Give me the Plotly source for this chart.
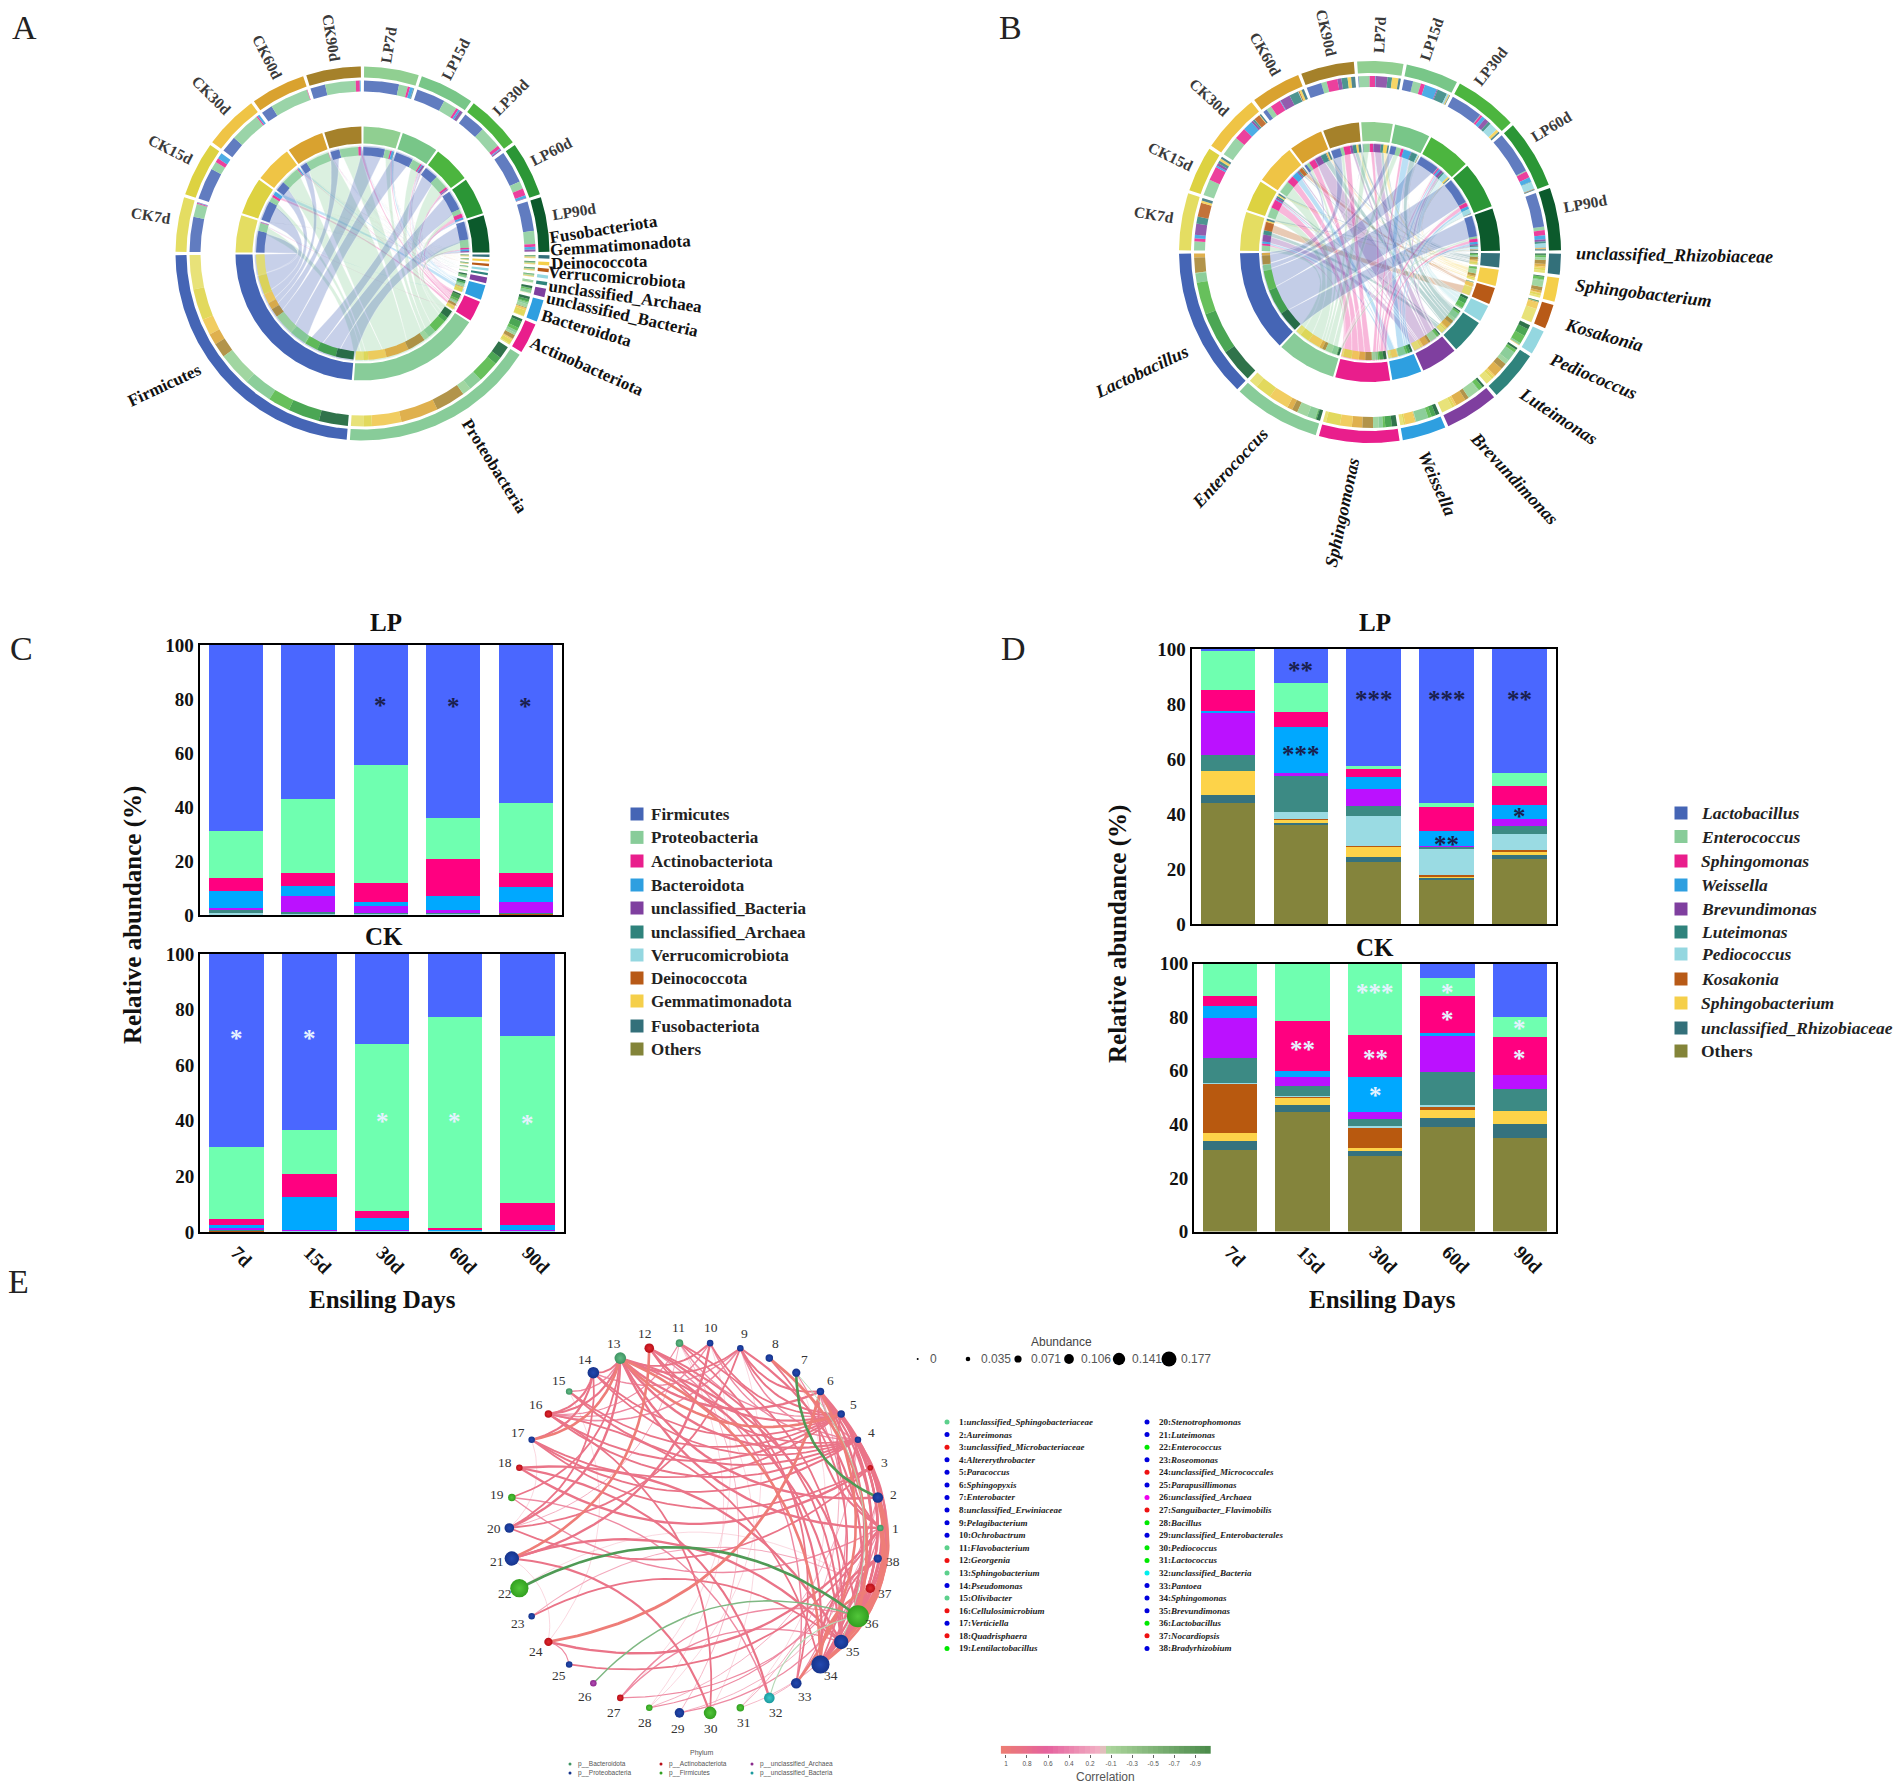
import numpy as np
import plotly.graph_objects as go

W, H = 1902, 1790
SERIF = "Liberation Serif"
SANS = "Liberation Sans"

# ---------- data ----------
samples = ["CK7d", "CK15d", "CK30d", "CK60d", "CK90d", "LP7d", "LP15d", "LP30d", "LP60d", "LP90d"]
sample_colors = ["#e4dd62", "#ddd241", "#efc445", "#d9a22f", "#a5812a",
                 "#90cf91", "#78c688", "#4cb53f", "#2b9636", "#0c5a2c"]
days = ["7d", "15d", "30d", "60d", "90d"]

phyla = ["Firmicutes", "Proteobacteria", "Actinobacteriota", "Bacteroidota", "unclassified_Bacteria",
         "unclassified_Archaea", "Verrucomicrobiota", "Deinococcota", "Gemmatimonadota", "Fusobacteriota"]
phylum_legend_colors = ["#4565b5", "#88cc99", "#e91e8c", "#2e9fe0", "#7f3f9f", "#2f837c",
                        "#94d7e0", "#b85a17", "#f5cf4a", "#33707a", "#838439"]
phylum_bar_colors = ["#4a67ff", "#6fffb0", "#ff0080", "#00a8ff", "#bb11ff", "#3c8a84",
                     "#9adbe3", "#b8590f", "#fdd349", "#35727e", "#84843c"]
# columns: CK7,15,30,60,90, LP7,15,30,60,90
firmicutes = [69.3, 63.3, 32.5, 22.5, 29.4, 69.0, 57.0, 44.3, 64.0, 58.7]
proteobacteria = [26.2, 16.0, 59.8, 75.9, 60.3, 17.5, 27.3, 43.9, 15.2, 25.7]
actinobacteriota = [2.0, 8.2, 2.7, 0.9, 7.9, 4.7, 4.9, 6.8, 13.8, 5.3]
bacteroidota = [1.0, 11.8, 4.3, 0.1, 1.7, 6.3, 3.8, 1.7, 5.2, 5.3]
unclassified_bacteria = [0.6, 0.2, 0.2, 0.1, 0.2, 0.5, 6.0, 2.6, 1.2, 4.2]
unclassified_archaea = [0.2, 0.1, 0.1, 0.1, 0.1, 1.4, 0.5, 0.2, 0.1, 0.1]
verrucomicrobiota = [0.3, 0.1, 0.1, 0.1, 0.1, 0.4, 0.2, 0.2, 0.2, 0.2]
deinococcota = [0.1, 0.1, 0.1, 0.1, 0.1, 0.1, 0.1, 0.1, 0.1, 0.2]
gemmatimonadota = [0.2, 0.1, 0.1, 0.1, 0.1, 0.1, 0.1, 0.2, 0.1, 0.2]
fusobacteriota = [0.1, 0.1, 0.1, 0.1, 0.1, 0.1, 0.1, 0.0, 0.1, 0.1]
phylum_matrix = np.array([firmicutes, proteobacteria, actinobacteriota, bacteroidota, unclassified_bacteria,
                          unclassified_archaea, verrucomicrobiota, deinococcota, gemmatimonadota, fusobacteriota])

genera = ["Lactobacillus", "Enterococcus", "Sphingomonas", "Weissella", "Brevundimonas", "Luteimonas",
          "Pediococcus", "Kosakonia", "Sphingobacterium", "unclassified_Rhizobiaceae"]
genus_legend_colors = ["#4565b5", "#88cc99", "#e91e8c", "#2e9fe0", "#7f3f9f", "#2f837c",
                       "#94d7e0", "#b85a17", "#f5cf4a", "#33707a", "#838439"]
genus_bar_colors = phylum_bar_colors
lactobacillus = [0, 0, 0, 5.3, 20, 0.8, 12.3, 42.7, 56, 45]
enterococcus = [12, 21.5, 26.7, 7, 7.3, 14.2, 10.7, 0.8, 1.3, 4.8]
sphingomonas = [4, 18.5, 15.8, 13.7, 14.2, 7.5, 5.5, 3, 8.7, 6.9]
weissella = [4.5, 2.3, 12.9, 1, 0, 0.8, 16.5, 4.5, 5.8, 5]
brevundimonas = [14.7, 3.5, 2.8, 13.5, 5.3, 15.2, 1.3, 6, 0.2, 2.8]
luteimonas = [9.4, 3.5, 2.5, 12.2, 8.2, 6, 13, 3.7, 0.5, 2.7]
pediococcus = [0.1, 0.2, 0.3, 0.6, 0, 0, 2.4, 10.9, 9.8, 5.8]
kosakonia = [18.5, 0.3, 8, 1.4, 0, 0, 0.3, 0.1, 0.5, 0.8]
sphingobacterium = [3, 2.9, 0.8, 3, 4.7, 8.5, 1.2, 3.8, 0.2, 1]
rhizobiaceae = [3.5, 2.8, 2, 3.3, 5.3, 3, 0.8, 2, 1, 1.7]
genus_others = [30.3, 44.5, 28.2, 39, 35, 44, 36, 22.5, 16, 23.5]
genus_matrix = np.array([lactobacillus, enterococcus, sphingomonas, weissella, brevundimonas, luteimonas,
                         pediococcus, kosakonia, sphingobacterium, rhizobiaceae])

stars_c_lp = [("30d", 79.6, "*"), ("60d", 79, "*"), ("90d", 79, "*")]
stars_c_ck = [("7d", 71.5, "*"), ("15d", 71.5, "*"), ("30d", 41.5, "*"), ("60d", 41.5, "*"), ("90d", 41, "*")]
stars_d_lp = [("15d", 94, "**"), ("15d", 63.4, "***"), ("30d", 83.4, "***"), ("60d", 83.4, "***"),
              ("90d", 83.4, "**"), ("90d", 41, "*"), ("60d", 30.7, "**")]
stars_d_ck = [("15d", 69.6, "**"), ("30d", 91, "***"), ("30d", 66.5, "**"), ("30d", 52.5, "*"),
              ("60d", 91, "*"), ("60d", 81, "*"), ("90d", 77.5, "*"), ("90d", 66.5, "*")]

taxa = ["unclassified_Sphingobacteriaceae", "Aureimonas", "unclassified_Microbacteriaceae", "Altererythrobacter",
        "Paracoccus", "Sphingopyxis", "Enterobacter", "unclassified_Erwiniaceae", "Pelagibacterium", "Ochrobactrum",
        "Flavobacterium", "Georgenia", "Sphingobacterium", "Pseudomonas", "Olivibacter", "Cellulosimicrobium",
        "Verticiella", "Quadrisphaera", "Lentilactobacillus", "Stenotrophomonas", "Luteimonas", "Enterococcus",
        "Roseomonas", "unclassified_Micrococcales", "Parapusillimonas", "unclassified_Archaea",
        "Sanguibacter_Flavimobilis", "Bacillus", "unclassified_Enterobacterales", "Pediococcus", "Lactococcus",
        "unclassified_Bacteria", "Pantoea", "Sphingomonas", "Brevundimonas", "Lactobacillus", "Nocardiopsis",
        "Bradyrhizobium"]
taxa_phylum = ["Bd", "Pr", "Ac", "Pr", "Pr", "Pr", "Pr", "Pr", "Pr", "Pr", "Bd", "Ac", "Bd", "Pr", "Bd", "Ac", "Pr", "Ac",
               "Fi", "Pr", "Pr", "Fi", "Pr", "Ac", "Pr", "Ar", "Ac", "Fi", "Pr", "Fi", "Fi", "Ub", "Pr", "Pr", "Pr", "Fi",
               "Ac", "Pr"]
taxa_abundance = [0.025, 0.065, 0.016, 0.025, 0.035, 0.035, 0.042, 0.035, 0.025, 0.025,
                  0.035, 0.055, 0.075, 0.075, 0.025, 0.035, 0.025, 0.025, 0.035, 0.055,
                  0.102, 0.140, 0.025, 0.042, 0.025, 0.025, 0.025, 0.025, 0.055, 0.085,
                  0.035, 0.065, 0.065, 0.140, 0.102, 0.177, 0.055, 0.042]
node_colors = {"Bd": "#3f9463", "Pr": "#16348c", "Ac": "#b80f18", "Fi": "#32a020", "Ar": "#8a2a8c", "Ub": "#1b9a9e"}
node_centers = {"Bd": "#62bb85", "Pr": "#2349b0", "Ac": "#e02a30", "Fi": "#52c63a", "Ar": "#b44ab4", "Ub": "#3cc6c8"}
key_colors = {"Bd": "#5cd08c", "Pr": "#0000dd", "Ac": "#ee1111", "Fi": "#00e800", "Ar": "#ee00ee", "Ub": "#00eeee"}
phylum_key = [("p__Bacteroidota", "Bd"), ("p__Proteobacteria", "Pr"), ("p__Actinobacteriota", "Ac"),
              ("p__Firmicutes", "Fi"), ("p__unclassified_Archaea", "Ar"), ("p__unclassified_Bacteria", "Ub")]
abundance_key = [0, 0.035, 0.071, 0.106, 0.141, 0.177]
abundance_labels = ["0", "0.035", "0.071", "0.106", "0.141", "0.177"]
corr_ticks = ["1", "0.8", "0.6", "0.4", "0.2", "-0.1", "-0.3", "-0.5", "-0.7", "-0.9"]

edges = [
    (1,36,.95),(2,36,.95),(1,35,.9),(1,34,.9),(2,34,.95),(2,35,.85),(36,38,.8),(36,37,.9),(34,37,.9),(34,38,.85),
    (35,38,.7),(35,37,.6),(4,36,.85),(5,36,.85),(6,36,.85),(5,34,.85),(6,34,.85),(4,35,.8),(6,35,.8),(3,35,.7),
    (5,35,.8),(4,34,.8),(6,33,.9),(3,36,.6),(1,4,.75),(1,5,.8),(1,6,.75),(4,6,.6),(5,6,.6),
    (8,36,.95),(8,34,.7),(9,36,.8),(9,6,.75),(9,5,.75),(9,4,.6),(10,5,.7),(10,4,.6),
    (13,1,.85),(13,2,.85),
    (13,14,.75),(13,16,.8),(13,17,.9),(13,15,.6),(13,20,.85),(13,19,.7),(14,16,.8),(14,17,.8),(14,20,.7),(9,16,.65),
    (10,16,.6),(9,13,.7),(10,13,.75),(11,16,.5),(9,14,.6),(12,5,.8),(12,4,.7),(13,4,.85),(13,5,.9),
    (13,6,.85),(14,4,.7),(14,5,.7),(15,4,.75),(15,5,.7),(16,4,.75),(16,5,.75),(17,4,.75),
    (17,5,.7),(17,3,.7),(11,5,.6),
    (12,21,.9),(10,21,.85),(9,20,.7),(11,20,.4),(12,34,.8),(13,34,.9),(13,35,.8),(13,36,.8),(11,33,.7),(11,35,.7),
    (12,33,.6),(12,35,.75),(11,30,.3),(9,28,.3),(16,34,.7),(17,20,.3),
    (15,24,.3),(10,27,.3),(3,18,.85),(18,32,.8),(18,35,.85),(1,19,.6),(19,32,.6),(3,20,.7),
    (21,35,.85),(21,30,.8),(21,24,.3),(22,37,.3),(23,35,.7),(23,37,.45),
    (6,24,.95),(1,24,.85),(24,25,.5),(1,25,.7),
    (27,36,.6),(27,35,.6),(1,27,.5),(2,28,.5),(4,28,.4),(11,28,.3),(1,29,.6),(2,29,.4),(11,29,.35),(16,30,.7),(1,31,.35),
    (6,31,.4),(7,31,.3),(2,32,.4),(7,33,.5),
    (2,7,-.9),(22,36,-.9),(26,36,-.6),(32,36,-.5),(7,35,-.4),
]

# ---------- helpers ----------
fig = go.Figure()
annos = []


def rgba(hex_color, a):
    h = hex_color.lstrip("#")
    return f"rgba({int(h[0:2],16)},{int(h[2:4],16)},{int(h[4:6],16)},{a})"


def text(x, y, s, size, color="#000", angle=0, anchor="center", family=SERIF, bold=False, italic=False,
         xref="x", yref="y", yshift=0):
    if italic:
        s = f"<i>{s}</i>"
    if bold:
        s = f"<b>{s}</b>"
    annos.append(dict(x=x, y=y, xref=xref, yref=yref, text=s, showarrow=False, xanchor=anchor, yanchor="middle",
                      textangle=angle, yshift=yshift, font=dict(family=family, size=size, color=color)))


def pt(cx, cy, r, t):
    a = np.radians(t)
    return cx - r * np.cos(a), cy - r * np.sin(a)


def ring(cx, cy, r0, r1, t0, t1):
    ts = np.linspace(t0, t1, max(3, int(abs(t1 - t0) * 2) + 2))
    xo, yo = pt(cx, cy, r1, ts)
    xi, yi = pt(cx, cy, r0, ts[::-1])
    return list(xo) + list(xi) + [xo[0], None], list(yo) + list(yi) + [yo[0], None]


def fill_trace(xs, ys, color, line=None):
    fig.add_trace(go.Scatter(x=xs, y=ys, mode="lines", fill="toself", fillcolor=color,
                             line=line or dict(width=0), hoverinfo="skip", showlegend=False,
                             xaxis="x", yaxis="y"))


def draw_rings(bucket):
    for col, (xs, ys) in bucket.items():
        fill_trace(xs, ys, col)


def add(bucket, color, poly):
    b = bucket.setdefault(color, ([], []))
    b[0].extend(poly[0])
    b[1].extend(poly[1])


def ctrl_point(cx, cy, rc, t0, t1, pull):
    mid = (t0 + t1) / 2
    if abs(t1 - t0) > 180:
        mid += 180
    return pt(cx, cy, rc * pull, mid)


def chord_panel(cx, cy, o, label_pos, cols, M, gap, min_w, ribbon_alpha, pull):
    ns, ng = M.shape[1], M.shape[0]
    s_tot, g_tot = M.sum(axis=0), M.sum(axis=1)
    s_w = s_tot / s_tot.sum() * (180 - ns * gap)
    g_w = np.maximum(g_tot / g_tot.sum() * (180 - ng * gap), min_w)
    g_w = g_w / g_w.sum() * (180 - ng * gap)
    s_arc, g_arc = {}, {}
    sub_s, sub_g = {}, {}
    t = gap / 2
    for s in range(ns):
        s_arc[s] = (t, t + s_w[s])
        c = t
        for p in range(ng):
            w = M[p, s] / s_tot[s] * s_w[s]
            sub_s[p, s] = (c, c + w)
            c += w
        t += s_w[s] + gap
    t = 180 + gap / 2
    for p in range(ng - 1, -1, -1):
        g_arc[p] = (t, t + g_w[p])
        c = t
        for s in range(ns - 1, -1, -1):
            w = M[p, s] / g_tot[p] * g_w[p]
            sub_g[p, s] = (c, c + w)
            c += w
        t += g_w[p] + gap
    rc = o["c"]
    for p in range(ng - 1, -1, -1):
        xs, ys = [], []
        for s in range(ns):
            if M[p, s] <= 0:
                continue
            a0, a1 = sub_s[p, s]
            b0, b1 = sub_g[p, s]
            ta = np.linspace(a0, a1, 8)
            tb = np.linspace(b0, b1, 8)
            xa, ya = pt(cx, cy, rc, ta)
            xb, yb = pt(cx, cy, rc, tb)
            u = np.linspace(0, 1, 24)
            c1x, c1y = ctrl_point(cx, cy, rc, a1, b0, pull)
            c2x, c2y = ctrl_point(cx, cy, rc, a0, b1, pull)
            q1x = (1 - u) ** 2 * xa[-1] + 2 * u * (1 - u) * c1x + u ** 2 * xb[0]
            q1y = (1 - u) ** 2 * ya[-1] + 2 * u * (1 - u) * c1y + u ** 2 * yb[0]
            q2x = (1 - u) ** 2 * xb[-1] + 2 * u * (1 - u) * c2x + u ** 2 * xa[0]
            q2y = (1 - u) ** 2 * yb[-1] + 2 * u * (1 - u) * c2y + u ** 2 * ya[0]
            xs += list(xa) + list(q1x) + list(xb) + list(q2x) + [None]
            ys += list(ya) + list(q1y) + list(yb) + list(q2y) + [None]
        fill_trace(xs, ys, rgba(cols[p], ribbon_alpha), dict(width=0.5, color="rgba(255,255,255,0.55)"))
    for r0, r1, r2, r3, alpha in [(o["o2"], o["o1"], o["o4"], o["o3"], 0.85), (o["i2"], o["i1"], o["i4"], o["i3"], 0.85)]:
        bucket = {}
        for s in range(ns):
            add(bucket, sample_colors[s], ring(cx, cy, r0, r1, *s_arc[s]))
        for p in range(ng):
            add(bucket, cols[p], ring(cx, cy, r0, r1, *g_arc[p]))
        draw_rings(bucket)
        bucket = {}
        for s in range(ns):
            for p in range(ng):
                if M[p, s] > 0:
                    add(bucket, rgba(cols[p], alpha), ring(cx, cy, r2, r3, *sub_s[p, s]))
        for p in range(ng):
            for s in range(ns):
                if M[p, s] > 0:
                    add(bucket, rgba(sample_colors[s], alpha), ring(cx, cy, r2, r3, *sub_g[p, s]))
        draw_rings(bucket)
    for s in range(ns):
        m = sum(s_arc[s]) / 2
        ang = m if m < 90 else m - 180
        text(label_pos[s][0], label_pos[s][1], samples[s], 15.5, "#3a3a3a", ang, bold=True)


def pad(l, r, t, b):
    return [l / W, r / W], [1 - b / H, 1 - t / H]


# ---------- panels A and B ----------
sample_label_a = [(151, 215), (171, 149), (212, 95), (268, 57), (332, 38),
                  (388, 45), (455, 59), (510, 97), (551, 151), (574, 211)]
sample_label_b = [(1154, 214), (1171, 156), (1210, 97), (1266, 54), (1327, 33),
                  (1379, 35), (1431, 39), (1490, 66), (1551, 126), (1585, 203)]
chord_panel(362.5, 253.5, dict(o1=187, o2=176, o3=173, o4=162, i1=127, i2=110, i3=106.5, i4=98, c=108),
            sample_label_a, phylum_legend_colors, phylum_matrix, 1.0, 1.1, 0.30, 0.22)
chord_panel(1370, 252, dict(o1=191, o2=179, o3=176, o4=165, i1=130, i2=111, i3=108, i4=100, c=109),
            sample_label_b, genus_legend_colors, genus_matrix, 1.0, 0.5, 0.32, 0.12)

label_a = [("Fusobacteriota", 603, 229, -9), ("Gemmatimonadota", 620, 245, -4), ("Deinococcota", 599, 262, -1.5),
           ("Verrucomicrobiota", 617, 277, 4.5), ("unclassified_Archaea", 625, 296, 8),
           ("unclassified_Bacteria", 622, 314, 12.7), ("Bacteroidota", 587, 328, 16.7),
           ("Actinobacteriota", 587, 366, 24), ("Proteobacteria", 495, 466, 58), ("Firmicutes", 164, 385, -25)]
for n, x, y, a in label_a:
    text(x, y, n, 17, "#111", a, bold=True)
label_b = [("unclassified_Rhizobiaceae", 1674, 255, 1), ("Sphingobacterium", 1643, 293, 6.7),
           ("Kosakonia", 1604, 335, 16), ("Pediococcus", 1593, 375.5, 23), ("Luteimonas", 1558, 416, 33),
           ("Brevundimonas", 1514, 478, 47), ("Weissella", 1437, 483, 66), ("Sphingomonas", 1342, 513, -78),
           ("Enterococcus", 1230, 468, -47), ("Lactobacillus", 1141, 372, -25)]
for n, x, y, a in label_b:
    text(x, y, n, 18, "#111", a, bold=True, italic=True)

for s, x, y in [("A", 24, 27), ("B", 1010, 27), ("C", 21, 648), ("D", 1013, 648), ("E", 18, 1281)]:
    text(x, y, s, 34, "#222")

# ---------- legends C, D ----------
leg_c_y = [814, 837.4, 861, 885, 908, 932, 955, 978, 1001, 1026, 1049]
leg_d_y = [813, 836.5, 861, 885, 909, 932, 954, 979, 1003, 1028, 1051]
for i, n in enumerate(phyla + ["Others"]):
    text(649, leg_c_y[i], n, 17, "#222", anchor="left", bold=True)
fig.add_trace(go.Scatter(x=[637] * 11, y=leg_c_y, mode="markers",
                         marker=dict(symbol="square", size=13, color=phylum_legend_colors, opacity=1),
                         hoverinfo="skip", showlegend=False))
for i, n in enumerate(genera + ["Others"]):
    text(1699, leg_d_y[i], n, 17.5, "#222", anchor="left", bold=True, italic=(n != "Others"))
fig.add_trace(go.Scatter(x=[1681] * 11, y=leg_d_y, mode="markers",
                         marker=dict(symbol="square", size=13, color=genus_legend_colors, opacity=1),
                         hoverinfo="skip", showlegend=False))

# ---------- stacked bars C, D ----------
phylum_stack = [(phyla[i], list(phylum_matrix[i]), i) for i in range(9, -1, -1)]
genus_stack = [("Others", genus_others, 10)] + [(genera[i], list(genus_matrix[i]), i) for i in range(9, -1, -1)]


def bars(stack, palette, idx, ax):
    for name, vals, ci in stack:
        fig.add_trace(go.Bar(x=days, y=[vals[j] for j in idx], marker=dict(color=palette[ci], line=dict(width=0)),
                             name=name, xaxis="x" + ax, yaxis="y" + ax, hoverinfo="skip", showlegend=False))


LP = [5, 6, 7, 8, 9]
CK = [0, 1, 2, 3, 4]
bars(phylum_stack, phylum_bar_colors, LP, "2")
bars(phylum_stack, phylum_bar_colors, CK, "3")
bars(genus_stack, genus_bar_colors, LP, "4")
bars(genus_stack, genus_bar_colors, CK, "5")

rects = {"2": (199.5, 562, 645, 915), "3": (200, 564, 954, 1232),
         "4": (1191.5, 1556, 649, 924), "5": (1194, 1556, 963.5, 1231.5)}
axes = {}
tf = dict(family=SERIF, size=19, color="#111", weight=700)
for k, (l, r, t, b) in rects.items():
    dx, dy = pad(l, r, t, b)
    axes[f"xaxis{k}"] = dict(domain=dx, anchor="y" + k, type="category", categoryorder="array", categoryarray=days,
                             range=[-0.5, 4.5], showline=True, mirror=True, linewidth=2, linecolor="#000",
                             showgrid=False, zeroline=False, ticks="", tickangle=45, tickfont=tf, automargin=False,
                             showticklabels=k in ("3", "5"), fixedrange=True)
    axes[f"yaxis{k}"] = dict(domain=dy, anchor="x" + k, range=[0, 100], tickvals=[0, 20, 40, 60, 80, 100],
                             showline=True, mirror=True, linewidth=2, linecolor="#000", showgrid=False, automargin=False,
                             zeroline=False, ticks="", tickfont=tf, fixedrange=True)

for lst, ax, color in [(stars_c_lp, "2", "#1a1f4d"), (stars_c_ck, "3", "#e6f2ff"),
                       (stars_d_lp, "4", "#1a1f4d"), (stars_d_ck, "5", "#e6f2ff")]:
    for d, y, s in lst:
        text(d, y, s, 25, color, xref="x" + ax, yref="y" + ax, bold=True, yshift=-5)

for x, y, s in [(133, 915, "Relative abundance (%)"), (1118, 934, "Relative abundance (%)")]:
    text(x, y, s, 25, "#111", -90, bold=True)
for x, s in [(382, "Ensiling Days"), (1382, "Ensiling Days")]:
    text(x, 1299, s, 25, "#111", bold=True)
for x, y, s in [(386, 622, "LP"), (384, 936, "CK"), (1375, 622, "LP"), (1375, 947, "CK")]:
    text(x, y, s, 25, "#111", bold=True)

# ---------- panel E network ----------
ecx, ecy, eR = 694.8, 1528.0, 185.5
node_ang = np.radians(np.arange(38) * 360 / 38)
node_x = ecx + eR * np.cos(node_ang)
node_y = ecy - eR * np.sin(node_ang)


def edge_style(r):
    a = abs(r)
    if r < 0:
        col = "#4f9a55" if a > 0.7 else ("#7fb883" if a > 0.55 else "#b5d8b5")
    elif a >= 0.9:
        col = "#ee7d78"
    elif a >= 0.7:
        col = "#ea7488"
    elif a >= 0.5:
        col = "#ee8aa2"
    elif a >= 0.35:
        col = "#f3a9bc"
    else:
        col = "#f8c9d5"
    return col, 0.5 + 2.6 * a ** 2


groups = {}
for a, b, r in edges:
    i, j = min(a, b), max(a, b)
    x0, y0, x1, y1 = node_x[i - 1], node_y[i - 1], node_x[j - 1], node_y[j - 1]
    dx, dy = x1 - x0, y1 - y0
    mx, my = (x0 + x1) / 2 + 0.32 * dy, (y0 + y1) / 2 - 0.32 * dx
    u = np.linspace(0, 1, 30)
    xs = (1 - u) ** 2 * x0 + 2 * u * (1 - u) * mx + u ** 2 * x1
    ys = (1 - u) ** 2 * y0 + 2 * u * (1 - u) * my + u ** 2 * y1
    g = groups.setdefault(r, ([], []))
    g[0].extend(list(xs) + [None])
    g[1].extend(list(ys) + [None])
for r in sorted(groups, key=lambda v: (v < 0, abs(v))):
    col, w = edge_style(r)
    fig.add_trace(go.Scatter(x=groups[r][0], y=groups[r][1], mode="lines", line=dict(color=col, width=w),
                             hoverinfo="skip", showlegend=False))

fig.add_trace(go.Scatter(
    x=node_x, y=node_y, mode="markers", hoverinfo="skip", showlegend=False,
    marker=dict(size=[4 + 18 * a / 0.177 for a in taxa_abundance], opacity=1,
                color=[node_colors[p] for p in taxa_phylum],
                gradient=dict(type="radial", color=[node_centers[p] for p in taxa_phylum]),
                line=dict(width=0))))
for i in range(38):
    text(ecx + 201 * np.cos(node_ang[i]), ecy - 201 * np.sin(node_ang[i]), str(i + 1), 13.5, "#333")

# abundance key
ak_x = [917.7, 968, 1018, 1069, 1119, 1169]
ak_lx = [928, 979, 1029, 1079, 1130, 1179]
fig.add_trace(go.Scatter(x=ak_x, y=[1359] * 6, mode="markers", hoverinfo="skip", showlegend=False,
                         marker=dict(color="#000", opacity=1, size=[2 + 13 * a / 0.177 for a in abundance_key],
                                     line=dict(width=0))))
for x, s in zip(ak_lx, abundance_labels):
    text(x, 1359, s, 12, "#555", anchor="left", family=SANS)
text(1061, 1342, "Abundance", 12, "#444", family=SANS)

# taxa key
kx, ky, kc = [], [], []
for i, (n, p) in enumerate(zip(taxa, taxa_phylum)):
    col = 0 if i < 19 else 1
    row = i if i < 19 else i - 19
    y = 1422 + row * 12.58
    kx.append(947 if col == 0 else 1147)
    ky.append(y)
    kc.append(key_colors[p])
    text(957 if col == 0 else 1157, y, f"{i + 1}:<i>{n}</i>", 9, "#222", anchor="left", bold=True)
fig.add_trace(go.Scatter(x=kx, y=ky, mode="markers", hoverinfo="skip", showlegend=False,
                         marker=dict(color=kc, size=5, opacity=1, line=dict(width=0))))

# phylum key
text(702, 1753, "Phylum", 7, "#555", family=SANS)
px_ = [570, 570, 661, 661, 752, 752]
py_ = [1764, 1773, 1764, 1773, 1764, 1773]
for (n, p), x, y in zip(phylum_key, px_, py_):
    text(x + 6, y, n, 6.5, "#555", anchor="left", family=SANS)
fig.add_trace(go.Scatter(x=px_, y=py_, mode="markers", hoverinfo="skip", showlegend=False,
                         marker=dict(color=[node_colors[p] for _, p in phylum_key], size=3, opacity=1, line=dict(width=0))))

# correlation bar
cb_cells = np.arange(-0.25, 9.75, 0.25) + 0.125
cb_stops = [(-0.25, 1.0), (2, 0.6), (4.6, 0.06), (4.7, -0.06), (9.75, -1.0)]
cb_z = np.interp(cb_cells, [s[0] for s in cb_stops], [s[1] for s in cb_stops])
fig.add_trace(go.Heatmap(x=cb_cells, y=[0], z=[list(cb_z)], xaxis="x6", yaxis="y6", showscale=False, hoverinfo="skip",
                         zmin=-1, zmax=1,
                         colorscale=[[0, "#4a8a4a"], [0.47, "#b0d89f"], [0.53, "#f2b5c6"],
                                     [0.8, "#e5629e"], [1, "#ec7d72"]]))
dx, dy = pad(1000.7, 1211, 1745.7, 1754)
axes["xaxis6"] = dict(domain=dx, anchor="y6", range=[-0.25, 9.75], tickvals=list(range(10)), ticktext=corr_ticks,
                      ticks="outside", ticklen=3, tickcolor="#666", tickwidth=0.8, showgrid=False, zeroline=False,
                      showline=False, tickfont=dict(family=SANS, size=6.5, color="#555"), fixedrange=True, automargin=False)
axes["yaxis6"] = dict(domain=dy, anchor="x6", visible=False, range=[-0.5, 0.5], fixedrange=True, automargin=False)
text(1105, 1777, "Correlation", 12, "#555", family=SANS)

fig.update_layout(
    template="none",
    width=W, height=H, autosize=False, margin=dict(l=0, r=0, t=0, b=0, pad=0), paper_bgcolor="#fff",
    plot_bgcolor="rgba(0,0,0,0)",
    barmode="stack", bargap=0.25, showlegend=False, annotations=annos,
    xaxis=dict(domain=[0, 1], range=[0, W], visible=False, fixedrange=True, automargin=False),
    yaxis=dict(domain=[0, 1], range=[H, 0], visible=False, fixedrange=True, automargin=False),
    **axes,
)
fig.write_html("out.html", post_script="document.body.style.margin='0';", config={"displayModeBar": False})
